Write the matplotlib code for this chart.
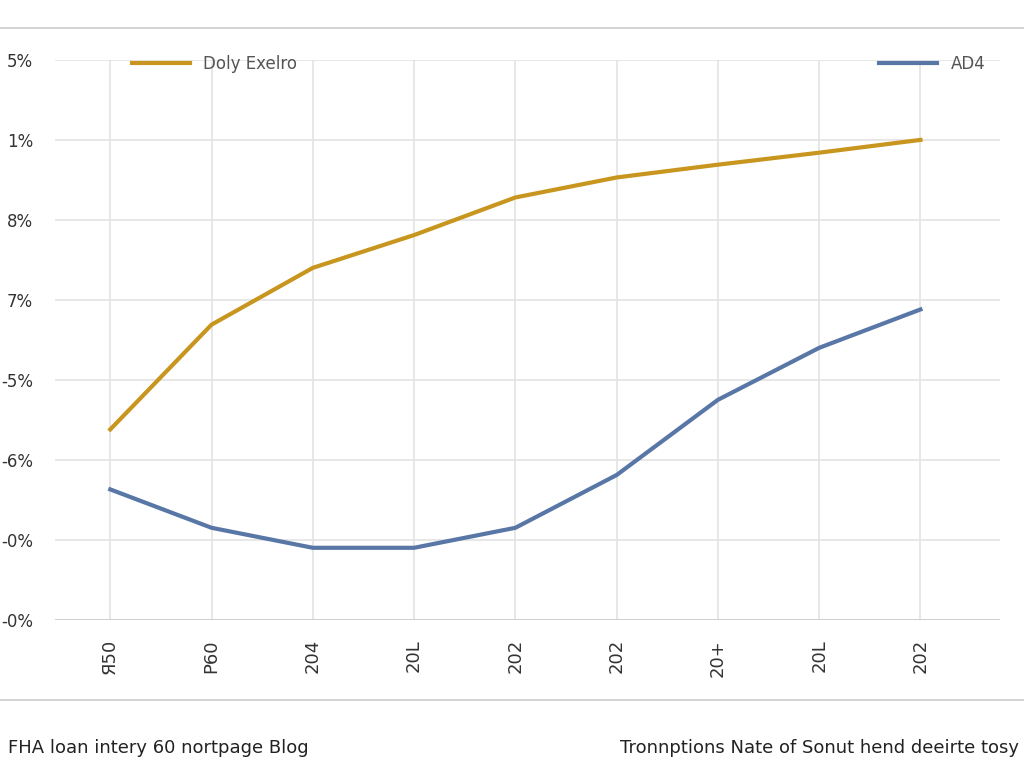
import matplotlib.pyplot as plt
from matplotlib.lines import Line2D

x_labels = ["Я50", "Р60", "204", "20L", "202", "202", "20+", "20L", "202"]
y_labels = ["-0%", "-0%", "-6%", "-5%", "7%", "8%", "1%", "5%"]
orange = [2.38, 3.69, 4.4, 4.81, 5.28, 5.53, 5.69, 5.84, 6.0]
blue = [1.63, 1.15, 0.9, 0.9, 1.15, 1.81, 2.75, 3.4, 3.88]

fig = plt.figure(figsize=(10.24, 7.68), dpi=100)
ax = fig.add_axes([0.054, 0.193, 0.923, 0.729])
x = list(range(len(x_labels)))
l1, = ax.plot(x, orange, color='#c8961e', lw=3, label="Doly Exelro")
l2, = ax.plot(x, blue, color='#5877a6', lw=3, label="AD4")
ax.set_xlim(-0.543, 8.79)
ax.set_ylim(0, 7)
ax.set_yticks(range(8))
ax.set_yticklabels(y_labels, fontsize=12, color='#333333')
ax.set_xticks(x)
ax.set_xticklabels(x_labels, rotation=90, fontsize=13, color='#333333')
ax.tick_params(length=0, pad=14)
ax.tick_params(axis='y', pad=16)
ax.grid(True, color='#e3e3e3', lw=1.2)
for s in ax.spines.values():
    s.set_visible(False)
ax.axhline(0, color='#cccccc', lw=1.2)

leg1 = ax.legend(handles=[l1], loc='upper left', bbox_to_anchor=(0.065, 1.035), frameon=False,
                 fontsize=12, handlelength=3.5, labelcolor='#555555')
ax.add_artist(leg1)
ax.legend(handles=[l2], loc='upper right', bbox_to_anchor=(1.0, 1.035), frameon=False,
          fontsize=12, handlelength=3.5, labelcolor='#555555')

fig.add_artist(Line2D([0, 1], [1 - 28/768, 1 - 28/768], color='#cccccc', lw=1.2))
fig.add_artist(Line2D([0, 1], [1 - 700/768, 1 - 700/768], color='#cccccc', lw=1.2))
fig.text(0.008, 1 - 748/768, "FHA loan intery 60 nortpage Blog", fontsize=13, color='#222222', va='center')
fig.text(0.995, 1 - 748/768, "Tronnptions Nate of Sonut hend deeirte tosy", fontsize=13,
         color='#222222', va='center', ha='right')

fig.savefig('out.png', dpi=100)
